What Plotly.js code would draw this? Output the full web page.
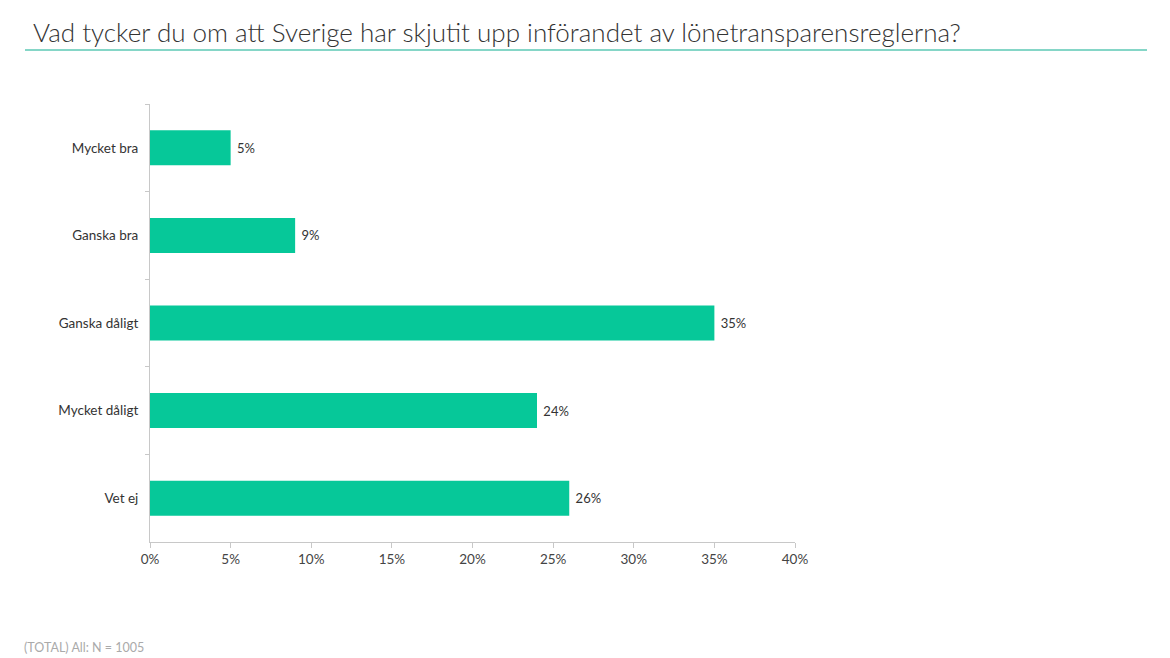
<!DOCTYPE html>
<html><head><meta charset="utf-8">
<script src="https://cdn.plot.ly/plotly-3.0.1.min.js"></script>
<style>html,body{margin:0;padding:0;background:#fff}#c{width:1170px;height:658px}</style>
</head><body><div id="c"></div>
<script>
const categories = ["Mycket bra","Ganska bra","Ganska dåligt","Mycket dåligt","Vet ej"];
const values = [5, 9, 35, 24, 26];
const xTicks = [0,5,10,15,20,25,30,35,40];
const titleText = "Vad tycker du om att Sverige har skjutit upp införandet av lönetransparensreglerna?";
const footnote = "(TOTAL) All: N = 1005";

const trace = {
  type: "bar", orientation: "h",
  y: categories, x: values,
  marker: {color: "#06C899"},
  width: 0.4,
  text: values.map(v => "\u00a0" + v + "%"),
  textposition: "outside",
  textfont: {family: "Lato", size: 13, color: "#333"},
  cliponaxis: false,
  hoverinfo: "none"
};
const layout = {
  width: 1170, height: 658,
  margin: {l:150, r:375, t:104, b:116},
  paper_bgcolor: "#fff", plot_bgcolor: "#fff",
  font: {family: "Lato", color: "#333"},
  showlegend: false,
  xaxis: {
    range: [0, 40], tickvals: xTicks, ticktext: xTicks.map(v => v + "%"),
    showgrid: false, zeroline: false, showline: true, linecolor: "#c8c8c8", linewidth: 1,
    ticks: "outside", ticklen: 5, tickcolor: "#c8c8c8",
    tickfont: {family: "Lato", size: 13.5, color: "#444"}, fixedrange: true
  },
  yaxis: {
    autorange: "reversed", showgrid: false, zeroline: false,
    showline: true, linecolor: "#c8c8c8", linewidth: 1,
    ticks: "outside", ticklen: 4, tickcolor: "#c8c8c8", tickson: "boundaries",
    tickfont: {family: "Lato", size: 13.5, color: "#333"}, ticklabelstandoff: 8, fixedrange: true
  },
  title: {text: titleText, x: 33/1170, xanchor: "left", xref: "container", y: 1 - 33/658, yanchor: "middle", yref: "container",
          font: {family: "Lato", size: 26, weight: 300, color: "#333"}},
  shapes: [{type: "line", xref: "paper", yref: "paper", x0: -125/645, x1: 997/645,
            y0: 1 + (542-50-438)/438, y1: 1 + (542-50-438)/438,
            line: {color: "#5DC9B5", width: 1.5}}],
  annotations: [{text: footnote, xref: "paper", yref: "paper", x: -128/645, y: -(647-542)/438,
                 xanchor: "left", yanchor: "middle", showarrow: false,
                 font: {family: "Lato", size: 12.5, color: "#aaa"}}]
};
Plotly.newPlot("c", [trace], layout, {displayModeBar: false, staticPlot: true});
</script></body></html>
